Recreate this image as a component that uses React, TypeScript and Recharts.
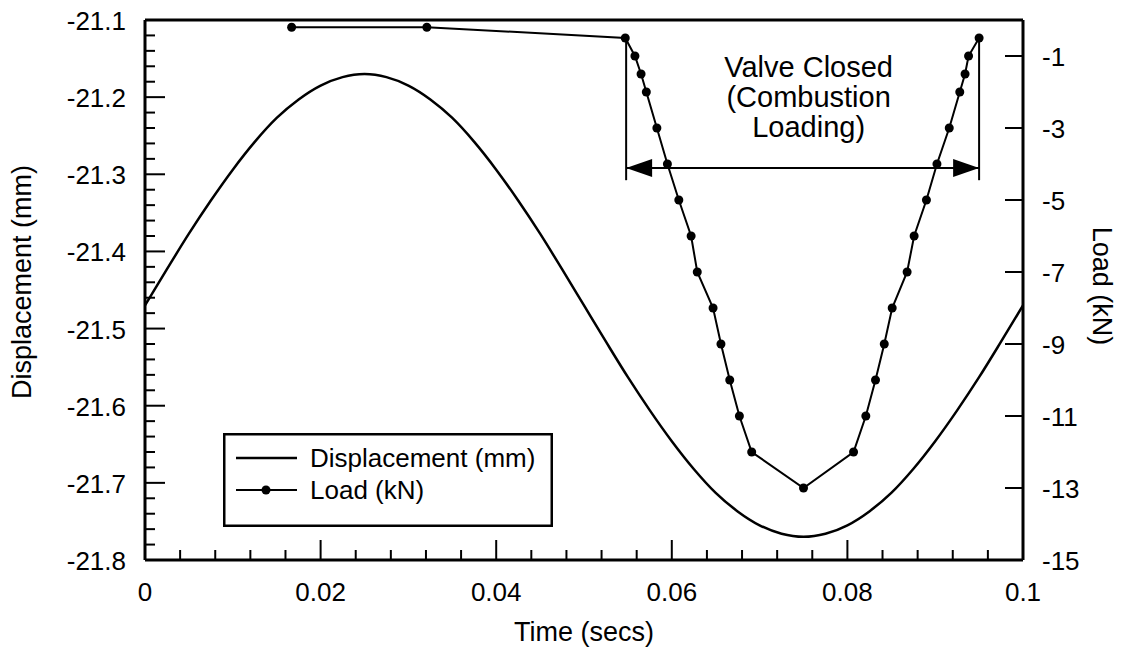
import React from "react";
import { LineChart, Line, XAxis, YAxis, ReferenceLine, Legend, Label } from "recharts";

const FONT = '"Liberation Sans", Arial, Helvetica, sans-serif';

const dispTime = [
  0, 0.0025, 0.005, 0.0075, 0.01, 0.0125, 0.015, 0.0175, 0.02, 0.0225, 0.025,
  0.0275, 0.03, 0.0325, 0.035, 0.0375, 0.04, 0.0425, 0.045, 0.0475, 0.05,
  0.0525, 0.055, 0.0575, 0.06, 0.0625, 0.065, 0.0675, 0.07, 0.0725, 0.075,
  0.0775, 0.08, 0.0825, 0.085, 0.0875, 0.09, 0.0925, 0.095, 0.0975, 0.1,
];
const dispMM = [
  -21.47, -21.423, -21.377, -21.334, -21.294, -21.258, -21.227, -21.203, -21.185, -21.174, -21.17,
  -21.174, -21.185, -21.203, -21.227, -21.258, -21.294, -21.334, -21.377, -21.423, -21.47,
  -21.517, -21.563, -21.606, -21.646, -21.682, -21.713, -21.737, -21.755, -21.766, -21.77,
  -21.766, -21.755, -21.737, -21.713, -21.682, -21.646, -21.606, -21.563, -21.517, -21.47,
];

// load samples (the dots)
const loadTime = [
  0.0167, 0.0321, 0.0547, 0.0558, 0.0565, 0.0571, 0.0583, 0.0595, 0.0608, 0.0622, 0.0629,
  0.0647, 0.0656, 0.0666, 0.0677, 0.0691, 0.075, 0.0807, 0.0821, 0.0832, 0.0842, 0.0851,
  0.0868, 0.0876, 0.089, 0.0902, 0.0916, 0.0928, 0.0934, 0.0938, 0.095,
];
const loadKN = [
  -0.2, -0.2, -0.5, -1.0, -1.5, -2.0, -3.0, -4.0, -5.0, -6.0, -7.0,
  -8.0, -9.0, -10.0, -11.0, -12.0, -13.0, -12.0, -11.0, -10.0, -9.0, -8.0,
  -7.0, -6.0, -5.0, -4.0, -3.0, -2.0, -1.5, -1.0, -0.5,
];

const timeTicks = [
  0, 0.004, 0.008, 0.012, 0.016, 0.02, 0.024, 0.028, 0.032, 0.036, 0.04, 0.044, 0.048,
  0.052, 0.056, 0.06, 0.064, 0.068, 0.072, 0.076, 0.08, 0.084, 0.088, 0.092, 0.096, 0.1,
];
const dispTicks = [
  -21.8, -21.78, -21.76, -21.74, -21.72, -21.7, -21.68, -21.66, -21.64, -21.62, -21.6,
  -21.58, -21.56, -21.54, -21.52, -21.5, -21.48, -21.46, -21.44, -21.42, -21.4, -21.38,
  -21.36, -21.34, -21.32, -21.3, -21.28, -21.26, -21.24, -21.22, -21.2, -21.18, -21.16,
  -21.14, -21.12, -21.1,
];
const loadTicks = [-15, -13, -11, -9, -7, -5, -3, -1];

// "valve closed" bracket: closing / opening time, and levels in kN (leg top, arrow, leg bottom)
const valveTimes = [0.0548, 0.095];
const valveLevels = [-0.5, -4.11, -4.45];
const valveText = ["Valve Closed", "(Combustion", "Loading)"];

const dispData = dispTime.map((t, i) => ({ t, d: dispMM[i] }));
const loadData = loadTime.map((t, i) => ({ t, l: loadKN[i] }));

const isMajor = (v: number, step: number) => Math.abs(v / step - Math.round(v / step)) < 1e-6;

const textStyle = { fontFamily: FONT, fontSize: 26, fill: "#000" };
const titleStyle = { fontFamily: FONT, fontSize: 27, fill: "#000" };

const BottomTick = (props: any) => {
  const { x, y, payload } = props;
  const major = isMajor(payload.value, 0.02);
  return (
    <g>
      <line x1={x} y1={y} x2={x} y2={y - (major ? 20 : 10)} stroke="#000" strokeWidth={2} />
      {major && (
        <text x={x} y={y + 32} textAnchor="middle" dominantBaseline="central" {...textStyle}>
          {String(payload.value)}
        </text>
      )}
    </g>
  );
};

const LeftTick = (props: any) => {
  const { x, y, payload } = props;
  const major = isMajor(payload.value, 0.1);
  return (
    <g>
      <line x1={x} y1={y} x2={x + (major ? 20 : 10)} y2={y} stroke="#000" strokeWidth={2} />
      {major && (
        <text x={x - 19} y={y + 1} textAnchor="end" dominantBaseline="central" {...textStyle}>
          {payload.value.toFixed(1)}
        </text>
      )}
    </g>
  );
};

const RightTick = (props: any) => {
  const { x, y, payload } = props;
  return (
    <g>
      <line x1={x} y1={y} x2={x - 18} y2={y} stroke="#000" strokeWidth={2} />
      <text x={x + 19} y={y + 1} textAnchor="start" dominantBaseline="central" {...textStyle}>
        {payload.value}
      </text>
    </g>
  );
};

// double-headed arrow plus the caption above it
const ArrowShape = (p: any) => {
  const left = Math.min(p.x1, p.x2);
  const right = Math.max(p.x1, p.x2);
  const y = p.y1;
  const mid = (left + right) / 2 + 6;
  return (
    <g>
      <line x1={left} y1={y} x2={right} y2={y} stroke="#000" strokeWidth={2} />
      <polygon points={`${left},${y} ${left + 26},${y - 9} ${left + 26},${y + 9}`} fill="#000" />
      <polygon points={`${right},${y} ${right - 26},${y - 9} ${right - 26},${y + 9}`} fill="#000" />
      {valveText.map((s, i) => (
        <text
          key={s}
          x={mid}
          y={y - 101 + 30 * i}
          textAnchor="middle"
          dominantBaseline="central"
          fontFamily={FONT}
          fontSize={29}
          fill="#000"
        >
          {s}
        </text>
      ))}
    </g>
  );
};

const LegendBox = (props: any) => {
  const items = props.payload || [];
  return (
    <svg width={330} height={94} style={{ display: "block" }}>
      <rect x={1.25} y={1.25} width={327.5} height={91.5} fill="#fff" stroke="#000" strokeWidth={2.5} />
      {items.map((entry: any, i: number) => {
        const cy = 25 + i * 32;
        return (
          <g key={entry.value}>
            <line x1={13} y1={cy} x2={74} y2={cy} stroke="#000" strokeWidth={i === 0 ? 2.5 : 2} />
            {i === 1 && <circle cx={43} cy={cy} r={4.5} fill="#000" />}
            <text x={87} y={cy} dominantBaseline="central" {...textStyle}>
              {entry.value}
            </text>
          </g>
        );
      })}
    </svg>
  );
};

export default function App() {
  return (
    <div style={{ position: "absolute", left: 0, top: 0, background: "#fff" }}>
      <LineChart
        width={1128}
        height={654}
        margin={{ top: 20, right: 45, bottom: 34, left: 20 }}
      >
        <XAxis
          type="number"
          dataKey="t"
          domain={[0, 0.1]}
          ticks={timeTicks}
          interval={0}
          tickSize={0}
          tickMargin={0}
          tickLine={false}
          tick={BottomTick}
          axisLine={{ stroke: "#000", strokeWidth: 3 }}
          height={60}
          allowDataOverflow
        >
          <Label
            content={(lp: any) => {
              const vb = lp.viewBox;
              return (
                <text x={vb.x + vb.width / 2} y={632} textAnchor="middle" dominantBaseline="central" {...titleStyle}>
                  Time (secs)
                </text>
              );
            }}
          />
        </XAxis>
        <YAxis
          yAxisId="left"
          type="number"
          domain={[-21.8, -21.1]}
          ticks={dispTicks}
          interval={0}
          tickSize={0}
          tickMargin={0}
          tickLine={false}
          tick={LeftTick}
          axisLine={{ stroke: "#000", strokeWidth: 3 }}
          width={125}
          allowDataOverflow
        >
          <Label
            content={(lp: any) => {
              const vb = lp.viewBox;
              const cy = vb.y + vb.height / 2 - 8;
              return (
                <text
                  x={22}
                  y={cy}
                  transform={`rotate(-90 22 ${cy})`}
                  textAnchor="middle"
                  dominantBaseline="central"
                  {...titleStyle}
                >
                  Displacement (mm)
                </text>
              );
            }}
          />
        </YAxis>
        <YAxis
          yAxisId="right"
          orientation="right"
          type="number"
          domain={[-15, 0]}
          ticks={loadTicks}
          interval={0}
          tickSize={0}
          tickMargin={0}
          tickLine={false}
          tick={RightTick}
          axisLine={{ stroke: "#000", strokeWidth: 3 }}
          width={60}
          allowDataOverflow
        >
          <Label
            content={(lp: any) => {
              const vb = lp.viewBox;
              const cy = vb.y + vb.height / 2 - 4;
              return (
                <text
                  x={1102}
                  y={cy}
                  transform={`rotate(90 1102 ${cy})`}
                  textAnchor="middle"
                  dominantBaseline="central"
                  {...titleStyle}
                >
                  Load (kN)
                </text>
              );
            }}
          />
        </YAxis>

        <ReferenceLine yAxisId="left" y={-21.1} stroke="#000" strokeWidth={3} ifOverflow="extendDomain" />

        <ReferenceLine
          yAxisId="right"
          segment={[
            { x: valveTimes[0], y: valveLevels[0] },
            { x: valveTimes[0], y: valveLevels[2] },
          ]}
          stroke="#000"
          strokeWidth={2}
        />
        <ReferenceLine
          yAxisId="right"
          segment={[
            { x: valveTimes[1], y: valveLevels[0] },
            { x: valveTimes[1], y: valveLevels[2] },
          ]}
          stroke="#000"
          strokeWidth={2}
        />
        <ReferenceLine
          yAxisId="right"
          segment={[
            { x: valveTimes[0], y: valveLevels[1] },
            { x: valveTimes[1], y: valveLevels[1] },
          ]}
          shape={ArrowShape}
        />

        <Line
          yAxisId="left"
          data={dispData}
          dataKey="d"
          name="Displacement (mm)"
          type="monotone"
          stroke="#000"
          strokeWidth={2.5}
          dot={false}
          isAnimationActive={false}
        />
        <Line
          yAxisId="right"
          data={loadData}
          dataKey="l"
          name="Load (kN)"
          type="linear"
          stroke="#000"
          strokeWidth={2}
          dot={{ r: 4.5, fill: "#000", stroke: "#000", strokeWidth: 0 }}
          isAnimationActive={false}
        />

        <Legend
          layout="vertical"
          align="center"
          verticalAlign="middle"
          content={LegendBox}
          wrapperStyle={{ position: "absolute", left: 223, top: 433, width: 330, height: 94 }}
        />
      </LineChart>
    </div>
  );
}
